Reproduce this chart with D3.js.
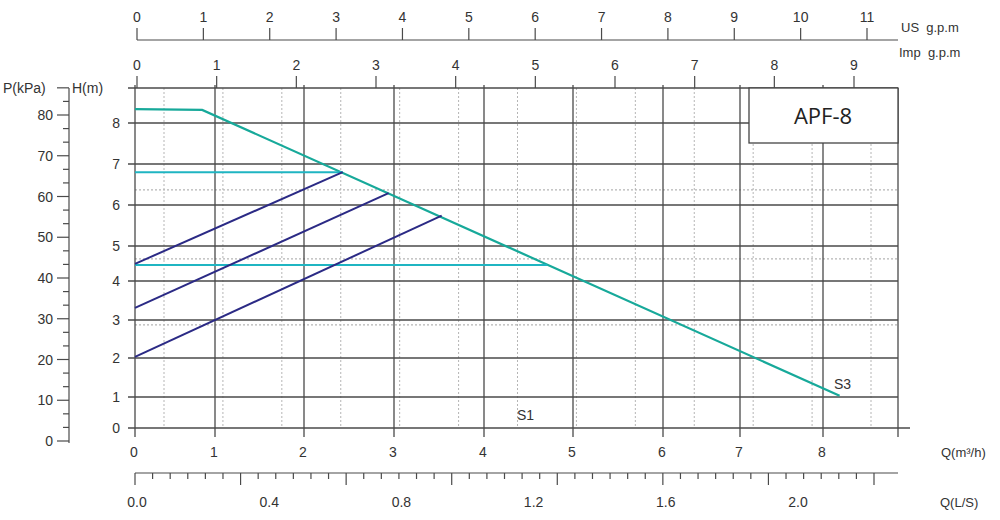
<!DOCTYPE html>
<html>
<head>
<meta charset="utf-8">
<style>
  body { margin: 0; background: #fff; }
  svg text { font-family: "Liberation Sans", Arial, sans-serif; fill: #333; white-space: pre; }
</style>
</head>
<body>
<div id="chart"></div>
<script src="https://d3js.org/d3.v7.min.js"></script>
<script>
  // ---- values ----
  const qTicks = [0, 1, 2, 3, 4, 5, 6, 7, 8];          // Q (m3/h)
  const hTicks = [0, 1, 2, 3, 4, 5, 6, 7, 8];          // H (m)
  const pTicks = [0, 10, 20, 30, 40, 50, 60, 70, 80];  // P (kPa)
  const usGpmTicks = [0, 1, 2, 3, 4, 5, 6, 7, 8, 9, 10, 11];
  const impGpmTicks = [0, 1, 2, 3, 4, 5, 6, 7, 8, 9];
  const lsLabels = [0.0, 0.4, 0.8, 1.2, 1.6, 2.0];
  const hDashed = [2.87, 4.63, 6.37];

  // S3 pump curve
  const s3Q = [0, 0.84, 8.2];
  const s3H = [8.34, 8.32, 1.03];
  // system lines (start at Q=0, end on the pump curve)
  const sysStartH = [4.49, 3.31, 2.03];
  const sysEndQ = [2.43, 2.94, 3.53];
  const sysEndH = [6.80, 6.29, 5.74];
  // horizontal duty lines
  const flatH = [6.80, 4.46];
  const flatEndQ = [2.43, 4.71];

  // ---- layout ----
  const W = 1000, H = 520;
  const plotTop = 88, plotLeft = 128, plotRight = 898, axisEnd = 910;

  const svg = d3.select("#chart").append("svg")
    .attr("width", W).attr("height", H);

  // the printed grid is not evenly spaced, so the scales are piecewise
  const x = d3.scaleLinear().domain(qTicks)
    .range([135, 215, 304, 394, 484, 573, 663, 740, 823]);
  const y = d3.scaleLinear().domain(hTicks)
    .range([428, 397, 358, 320, 281, 246, 205, 164, 123]);
  const p = d3.scaleLinear().domain([0, 80]).range([441, 115]);
  const us = d3.scaleLinear().domain([0, 11]).range([137, 867]);
  const imp = d3.scaleLinear().domain([0, 9]).range([137, 854]);
  const ls = d3.scaleLinear().domain([0, 2]).range([137, 798]);
  const lsTick = d3.scaleLinear().domain([0, 7]).range([135, 874]);
  const aux = d3.scaleLinear().domain([0, 12]).range([164, 871]);

  const solid = "#4a4a4a", dashed = "#b5b5b5";

  // dashed grid
  svg.append("g").selectAll("line").data(d3.range(0, 13)).join("line")
    .attr("x1", d => aux(d)).attr("x2", d => aux(d))
    .attr("y1", plotTop).attr("y2", y(0))
    .attr("stroke", dashed).attr("stroke-width", 1).attr("stroke-dasharray", "2,2");
  svg.append("g").selectAll("line").data(hDashed).join("line")
    .attr("x1", x(0)).attr("x2", plotRight)
    .attr("y1", d => y(d)).attr("y2", d => y(d))
    .attr("stroke", dashed).attr("stroke-width", 1.2).attr("stroke-dasharray", "2,2");

  // solid grid
  const g = svg.append("g").attr("stroke", solid).attr("stroke-width", 1.3);
  g.selectAll(".v").data(qTicks).join("line")
    .attr("x1", d => x(d)).attr("x2", d => x(d))
    .attr("y1", plotTop - 3).attr("y2", y(0) + 9);
  g.append("line").attr("x1", plotRight).attr("x2", plotRight).attr("y1", plotTop).attr("y2", y(0) + 9);
  g.selectAll(".h").data(hTicks).join("line")
    .attr("x1", plotLeft).attr("x2", d => d === 0 ? axisEnd : plotRight)
    .attr("y1", d => y(d)).attr("y2", d => y(d));
  g.append("line").attr("x1", plotLeft).attr("x2", plotRight).attr("y1", plotTop).attr("y2", plotTop);

  // model box
  svg.append("rect").attr("x", 749).attr("y", plotTop).attr("width", plotRight - 749).attr("height", 55)
    .attr("fill", "#fff").attr("stroke", "#444").attr("stroke-width", 1.3);
  svg.append("text").attr("x", 823).attr("y", 124).attr("text-anchor", "middle")
    .style("font-family", "'Open Sans', sans-serif").style("font-size", "22px").style("fill", "#222")
    .text("APF-8");

  // curves
  const line = d3.line().x(d => x(d[0])).y(d => y(d[1]));
  svg.append("path").datum(s3Q.map((q, i) => [q, s3H[i]]))
    .attr("d", line).attr("fill", "none").attr("stroke", "#17a99a").attr("stroke-width", 2.2);
  svg.append("g").selectAll("path").data(flatH).join("path")
    .attr("d", (h, i) => line([[0, h], [flatEndQ[i], h]]))
    .attr("fill", "none").attr("stroke", "#1fb5c2").attr("stroke-width", 2);
  svg.append("g").selectAll("path").data(sysStartH).join("path")
    .attr("d", (h, i) => line([[0, h], [sysEndQ[i], sysEndH[i]]]))
    .attr("fill", "none").attr("stroke", "#2b2a85").attr("stroke-width", 2);

  svg.append("text").attr("x", 517).attr("y", 420).style("font-size", "14px").text("S1");
  svg.append("text").attr("x", 834).attr("y", 389).style("font-size", "14px").text("S3");

  // H axis labels
  svg.append("g").selectAll("text").data(hTicks).join("text")
    .attr("x", 120).attr("y", d => y(d) + 5).attr("text-anchor", "end")
    .style("font-size", "14px").text(d => d);

  // Q (m3/h) labels
  svg.append("g").selectAll("text").data(qTicks).join("text")
    .attr("x", d => x(d) - 1).attr("y", 457).attr("text-anchor", "middle")
    .style("font-size", "14px").text(d => d);
  svg.append("text").attr("x", 941).attr("y", 457).style("font-size", "13px").text("Q(m³/h)");

  // P (kPa) axis
  const pa = svg.append("g").attr("stroke", solid).attr("stroke-width", 1.2);
  pa.append("line").attr("x1", 69).attr("x2", 69).attr("y1", plotTop).attr("y2", p(0) + 2);
  pa.selectAll(".mi").data(d3.range(0, 27)).join("line")
    .attr("x1", d => d % 3 === 0 || d === 26 ? 57 : 63).attr("x2", 69)
    .attr("y1", d => p(d * 10 / 3)).attr("y2", d => p(d * 10 / 3));
  svg.append("g").selectAll("text").data(pTicks).join("text")
    .attr("x", 53).attr("y", d => p(d) + 5).attr("text-anchor", "end")
    .style("font-size", "14px").text(d => d);
  svg.append("text").attr("x", 3).attr("y", 93).style("font-size", "14px").text("P(kPa)");
  svg.append("text").attr("x", 72).attr("y", 93).style("font-size", "14px").text("H(m)");

  // US g.p.m axis
  const ua = svg.append("g").attr("stroke", solid).attr("stroke-width", 1.2);
  ua.append("line").attr("x1", us(0)).attr("x2", plotRight).attr("y1", 40).attr("y2", 40);
  ua.selectAll(".t").data(usGpmTicks).join("line")
    .attr("x1", d => us(d)).attr("x2", d => us(d)).attr("y1", 40).attr("y2", 28);
  svg.append("g").selectAll("text").data(usGpmTicks).join("text")
    .attr("x", d => us(d)).attr("y", 22).attr("text-anchor", "middle")
    .style("font-size", "14px").text(d => d);
  svg.append("text").attr("x", 901).attr("y", 32).style("font-size", "13px").text("US  g.p.m");

  // Imp g.p.m axis (its line is the top of the grid)
  svg.append("g").attr("stroke", solid).attr("stroke-width", 1.2)
    .selectAll("line").data(impGpmTicks).join("line")
    .attr("x1", d => imp(d)).attr("x2", d => imp(d)).attr("y1", plotTop).attr("y2", 76);
  svg.append("g").selectAll("text").data(impGpmTicks).join("text")
    .attr("x", d => imp(d)).attr("y", 70).attr("text-anchor", "middle")
    .style("font-size", "14px").text(d => d);
  svg.append("text").attr("x", 899).attr("y", 57).style("font-size", "13px").text("Imp  g.p.m");

  // Q (L/S) axis
  const la = svg.append("g").attr("stroke", solid).attr("stroke-width", 1.2);
  la.append("line").attr("x1", 135).attr("x2", plotRight).attr("y1", 473).attr("y2", 473);
  la.selectAll(".t").data(d3.range(0, 43)).join("line")
    .attr("x1", d => lsTick(d / 6)).attr("x2", d => lsTick(d / 6))
    .attr("y1", 473).attr("y2", d => d % 6 === 0 ? 485 : 479);
  svg.append("g").selectAll("text").data(lsLabels).join("text")
    .attr("x", d => ls(d)).attr("y", 507).attr("text-anchor", "middle")
    .style("font-size", "14px").text(d => d.toFixed(1));
  svg.append("text").attr("x", 940).attr("y", 507).style("font-size", "13px").text("Q(L/S)");
</script>
</body>
</html>
